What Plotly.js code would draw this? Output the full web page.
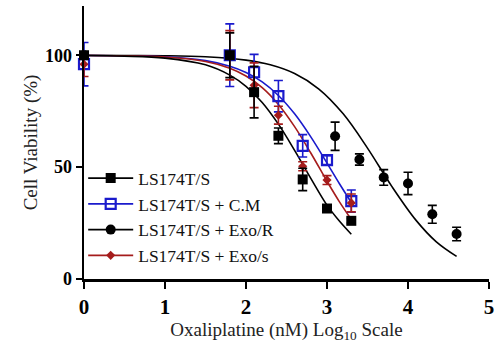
<!DOCTYPE html>
<html><head><meta charset="utf-8">
<script src="https://cdn.plot.ly/plotly-3.0.1.min.js"></script>
<style>html,body{margin:0;padding:0;background:#fff}#chart{width:500px;height:352px}</style>
</head><body><div id="chart"></div>
<script>
// Measured points (log10 concentration, % viability, SEM)
const seriesNames = ['LS174T/S', 'LS174T/S + C.M', 'LS174T/S + Exo/R', 'LS174T/S + Exo/s'];
const xConc = [0, 1.8, 2.1, 2.4, 2.7, 3.0, 3.3];
const lsY   = [100, 100, 83.5, 64, 44.5, 31.5, 26];
const lsErr = [1.5, 10, 11.5, 3.5, 5, 1, 1];
const cmY   = [96, 100, 92.4, 81.7, 59.5, 53.1, 34.8];
const cmErr = [9.7, 14, 8, 7, 5, 2, 5];
const exsY  = [96, 100, 86.6, 73.2, 50.4, 44.2, 34];
const exsErr= [5.5, 11, 10, 4, 2, 2, 4];
const xExoR = [0, 3.1, 3.4, 3.7, 4.0, 4.3, 4.6];
const exrY  = [100, 63.8, 53.4, 45.4, 42.7, 28.9, 20.1];
const exrErr= [1, 6.3, 2.5, 3.5, 5, 4, 3];

// Fitted curves
const fitX   = [0, 0.5, 1.0, 1.5, 1.8, 2.0, 2.2, 2.4, 2.6, 2.8, 3.0, 3.15, 3.3];
const lsFit  = [99.9, 99.6, 98.7, 95.7, 91.1, 86.1, 78.9, 69.2, 57.5, 45.0, 33.0, 26.0, 20.0];
const cmFit  = [99.9, 99.8, 99.3, 97.6, 95.1, 92.3, 88.1, 82.0, 73.8, 63.5, 51.8, 42.8, 34.2];
const exsFit = [99.9, 99.8, 99.2, 97.2, 94.2, 90.7, 85.5, 78.0, 68.1, 56.3, 43.7, 34.7, 26.6];
const exrFitX= [0, 0.5, 1.0, 1.5, 2.0, 2.3, 2.6, 2.9, 3.2, 3.5, 3.8, 4.1, 4.35, 4.6];
const exrFit = [100, 99.9, 99.8, 99.3, 97.8, 95.7, 91.8, 84.9, 73.8, 58.5, 41.4, 26.2, 16.6, 10.1];

const xTicks = [0, 1, 2, 3, 4, 5];
const yTicks = [0, 50, 100];

const BLACK = '#000000', BLUE = '#1a1acc', RED = '#a51c1c';
const SERIF = 'Liberation Serif, Times New Roman, serif';

function curve(x, y, color) {
  return {x: x, y: y, mode: 'lines', type: 'scatter', showlegend: false, hoverinfo: 'skip',
    line: {color: color, width: 1.6, shape: 'spline', smoothing: 1}, cliponaxis: false};
}
function pts(x, y, e, color, marker) {
  return {x: x, y: y, mode: 'markers', type: 'scatter', showlegend: false, cliponaxis: false,
    marker: marker,
    error_y: {type: 'data', array: e, visible: true, color: color, thickness: 1.6, width: 4.5}};
}
function leg(name, color, marker) {
  return {x: [null], y: [null], mode: 'lines+markers', type: 'scatter', name: name,
    line: {color: color, width: 1.6}, marker: marker};
}

const mkLS  = {symbol: 'square', size: 10, color: BLACK};
const mkCM  = {symbol: 'square-open', size: 10, color: BLUE, line: {width: 2.2, color: BLUE}};
const mkEXR = {symbol: 'circle', size: 10, color: BLACK};
const mkEXS = {symbol: 'diamond', size: 7, color: RED};

const data = [
  curve(exrFitX, exrFit, BLACK),
  curve(fitX, cmFit, BLUE),
  curve(fitX, exsFit, RED),
  curve(fitX, lsFit, BLACK),
  pts(xExoR, exrY, exrErr, BLACK, mkEXR),
  pts(xConc, cmY, cmErr, BLUE, mkCM),
  pts(xConc, exsY, exsErr, RED, mkEXS),
  pts(xConc, lsY, lsErr, BLACK, mkLS),
  leg(seriesNames[0], BLACK, mkLS),
  leg(seriesNames[1], BLUE, mkCM),
  leg(seriesNames[2], BLACK, mkEXR),
  leg(seriesNames[3], RED, mkEXS)
];

const layout = {
  width: 500, height: 352,
  margin: {l: 84, r: 11, t: 6, b: 73},
  paper_bgcolor: '#fff', plot_bgcolor: '#fff',
  font: {family: SERIF, color: '#000'},
  showlegend: true,
  legend: {x: -0.002, y: 0.435, xanchor: 'left', yanchor: 'top', bgcolor: 'rgba(0,0,0,0)',
    font: {family: SERIF, size: 17.5, color: '#111'}, tracegroupgap: 0, itemwidth: 45},
  xaxis: {range: [0, 5], tickvals: xTicks, ticktext: xTicks.map(String),
    showline: true, linecolor: '#000', linewidth: 2.5, ticks: 'outside', ticklen: 7, tickwidth: 2.5,
    tickcolor: '#000', showgrid: false, zeroline: false,
    tickfont: {size: 21, color: '#000', family: SERIF, weight: 'bold'},
    title: {text: 'Oxaliplatine (nM) Log<sub>10</sub> Scale', font: {family: SERIF, size: 19, color: '#222'}, standoff: 2}},
  yaxis: {range: [0, 122], tickvals: yTicks, ticktext: yTicks.map(String),
    showline: true, linecolor: '#000', linewidth: 2.5, ticks: 'outside', ticklen: 6, tickwidth: 2.5,
    tickcolor: '#000', showgrid: false, zeroline: false,
    tickfont: {size: 18, color: '#000', family: SERIF, weight: 'bold'},
    title: {text: 'Cell Viability (%)', font: {family: SERIF, size: 19, color: '#222'}, standoff: 3}}
};

Plotly.newPlot('chart', data, layout, {displayModeBar: false, staticPlot: true});
</script></body></html>
